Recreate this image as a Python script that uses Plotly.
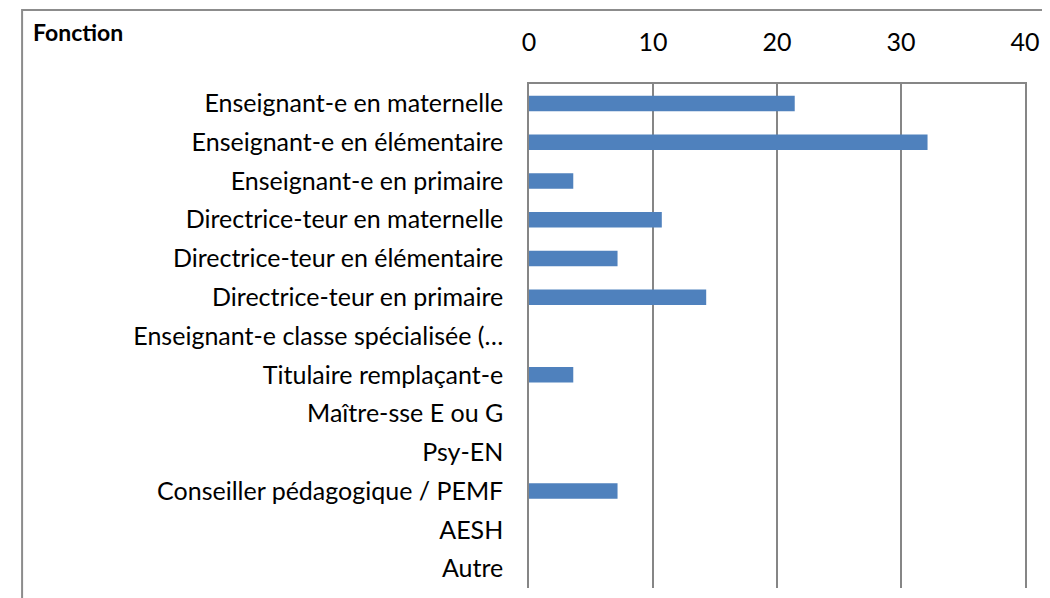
import plotly.graph_objects as go

categories = [
    "Enseignant-e en maternelle",
    "Enseignant-e en élémentaire",
    "Enseignant-e en primaire",
    "Directrice-teur en maternelle",
    "Directrice-teur en élémentaire",
    "Directrice-teur en primaire",
    "Enseignant-e classe spécialisée (…",
    "Titulaire remplaçant-e",
    "Maître-sse E ou G",
    "Psy-EN",
    "Conseiller pédagogique / PEMF",
    "AESH",
    "Autre",
]
values = [21.43, 32.14, 3.57, 10.71, 7.14, 14.29, 0, 3.57, 0, 0, 7.14, 0, 0]
x_ticks = [0, 10, 20, 30, 40]

# page has an 8px body margin; figure coordinates are page - 8
OFF = 8
W, H = 1050 - OFF, 598 - OFF
L, R, T, B = 529 - OFF, 1050 - 1029, 84 - OFF, 598 - 588
pw, ph = W - L - R, H - T - B

FONT = "Lato, Carlito, Calibri, sans-serif"

fig = go.Figure(go.Bar(
    x=values, y=categories, orientation="h",
    marker=dict(color="#4F81BD", line=dict(width=0)),
    hoverinfo="x+y",
))

fig.update_layout(
    width=W, height=H,
    margin=dict(l=L, r=R, t=T, b=B, pad=0),
    paper_bgcolor="white", plot_bgcolor="white",
    bargap=0.6,
    showlegend=False,
    font=dict(family=FONT, size=25, color="black"),
    title=dict(text="<b>Fonction</b>", xref="container", yref="container",
               x=(33 - OFF) / W, y=1 - (33 - OFF) / H, xanchor="left", yanchor="middle",
               font=dict(family=FONT, size=23, color="black")),
    xaxis=dict(side="top", range=[0, 40], tickvals=x_ticks,
               showgrid=True, gridcolor="#868686", gridwidth=1.5,
               showline=True, linecolor="#868686", linewidth=1.5,
               zeroline=False, ticks="", ticklabelstandoff=21,
               fixedrange=True),
    yaxis=dict(autorange="reversed", showgrid=False,
               showline=True, mirror=True, linecolor="#868686", linewidth=1.5,
               ticks="", ticklabelstandoff=19, zeroline=False,
               fixedrange=True),
    shapes=[dict(type="rect", xref="paper", yref="paper",
                 x0=(18 - OFF - L) / pw, x1=(1070 - L) / pw,
                 y0=-0.2, y1=(H - B - (10 - OFF)) / ph,
                 line=dict(color="#8C8C8C", width=2), fillcolor="rgba(0,0,0,0)")],
)

fig.write_html("out.html")
